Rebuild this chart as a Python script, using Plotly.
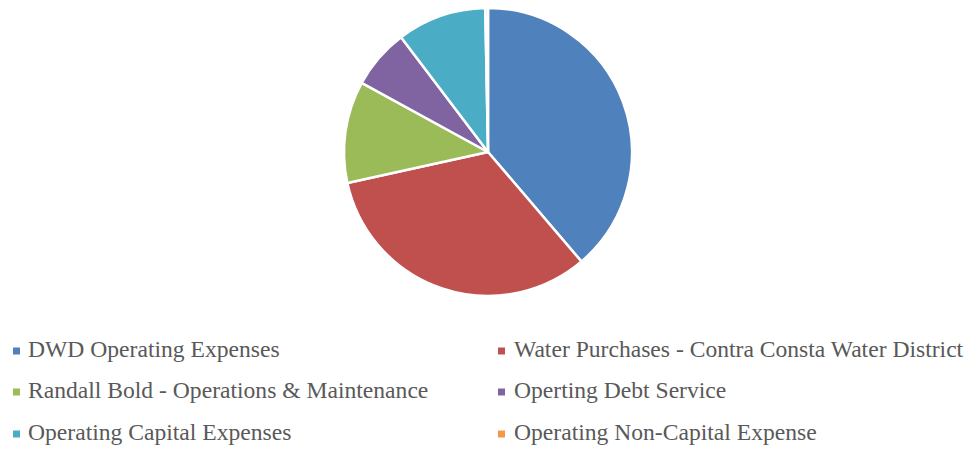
import plotly.graph_objects as go

labels = [
    "DWD Operating Expenses",
    "Water Purchases - Contra Consta Water District",
    "Randall Bold - Operations & Maintenance",
    "Operting Debt Service",
    "Operating Capital Expenses",
    "Operating Non-Capital Expense",
]
values = [38.7, 32.75, 11.4, 6.7, 10.0, 0.3]
colors = ["#4F81BD", "#C0504D", "#9BBB59", "#8064A2", "#4BACC6", "#F79646"]

# page body has an 8px margin; work in window pixels and convert
OFF = 8
W, H = 978 - OFF, 449 - OFF


def px(x):
    return (x - OFF) / W


def py(y):
    return min(1.0, max(0.0, 1 - (y - OFF) / H))


cx, cy, r = 488, 151, 145
top = max(cy - r, OFF)
bot = cy + r
rr = (bot - top) / 2

fig = go.Figure()
fig.add_trace(go.Pie(
    labels=labels, values=values, sort=False, direction="clockwise", rotation=0,
    marker=dict(colors=colors, line=dict(color="white", width=2.5)),
    textinfo="none", showlegend=False,
    domain=dict(x=[px(cx - rr), px(cx + rr)], y=[py(bot), py(top)]),
))

# legend laid out in two columns, built from the label list
col_marker_x = [13, 498]
col_text_x = [26, 512]
row_y = [351, 392, 434]
shapes = []
annotations = []
for i, (lab, col) in enumerate(zip(labels, colors)):
    c = i % 2
    rw = i // 2
    mx = col_marker_x[c]
    my = row_y[rw]
    shapes.append(dict(type="rect", xref="paper", yref="paper",
                       x0=px(mx), x1=px(mx + 7),
                       y0=py(my + 3.5), y1=py(my - 3.5),
                       fillcolor=col, line=dict(width=0)))
    annotations.append(dict(text=lab, xref="paper", yref="paper",
                            x=px(col_text_x[c]), y=py(my - 2),
                            xanchor="left", yanchor="middle", showarrow=False,
                            font=dict(family="Liberation Serif, Times New Roman, serif", size=23.6, color="#595959")))

fig.update_layout(
    width=W, height=H, margin=dict(l=0, r=0, t=0, b=0),
    paper_bgcolor="white", plot_bgcolor="white",
    shapes=shapes, annotations=annotations,
)
fig.write_html("out.html")
